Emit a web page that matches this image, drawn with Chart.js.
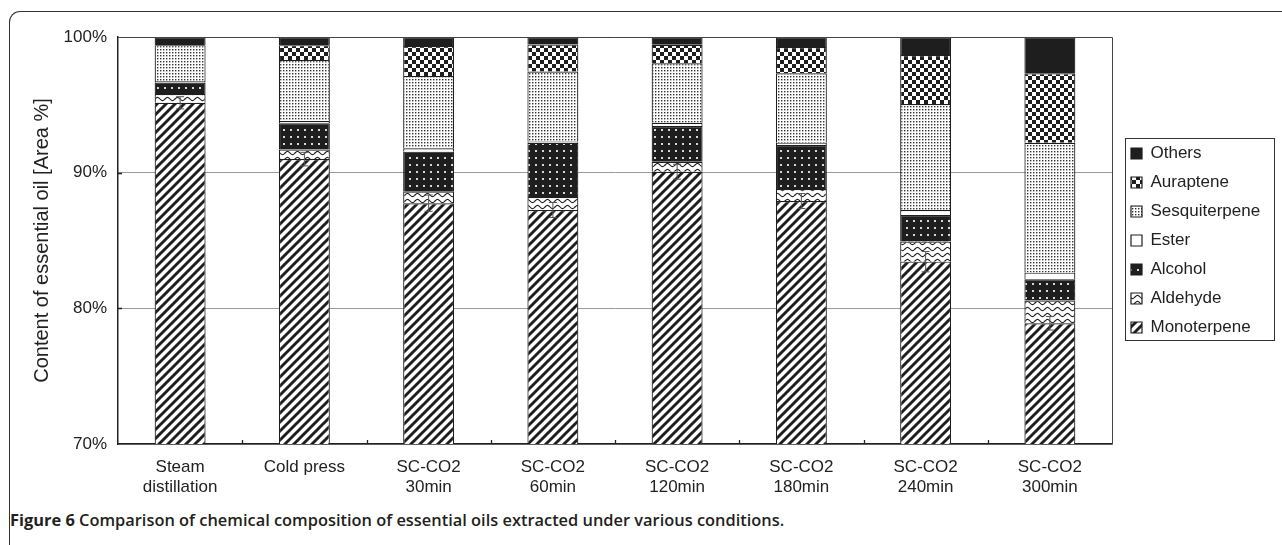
<!DOCTYPE html>
<html>
<head>
<meta charset="utf-8">
<script src="https://cdn.jsdelivr.net/npm/chart.js@4.4.1/dist/chart.umd.min.js"></script>
<style>
  html, body { margin: 0; padding: 0; background: #fff; }
  body { width: 1282px; height: 545px; position: relative; overflow: hidden; }
  #frame { position: absolute; left: 9px; top: 11px; width: 1300px; height: 560px;
           border-top: 1px solid #333; border-left: 1px solid #333; border-top-left-radius: 11px; }
  #chart { position: absolute; left: 0; top: 0; }
  #caption { position: absolute; left: 10px; top: 509px; font-family: 'Open Sans', sans-serif;
             font-size: 16.4px; font-weight: 600; color: #231f20; white-space: nowrap; line-height: 22px; }
  #caption b { font-weight: 700; }
</style>
</head>
<body>
<div id="frame"></div>
<canvas id="chart" width="1282" height="500"></canvas>
<div id="caption"><b>Figure 6</b> Comparison of chemical composition of essential oils extracted under various conditions.</div>
<script>
// categories (x axis, multi-line labels)
const categories = [
    ['Steam', 'distillation'],
    'Cold press',
    ['SC-CO2', '30min'],
    ['SC-CO2', '60min'],
    ['SC-CO2', '120min'],
    ['SC-CO2', '180min'],
    ['SC-CO2', '240min'],
    ['SC-CO2', '300min']
];

// Area % of each component, bottom of the stack first
const monoterpene   = [95.15, 91.0, 87.75, 87.25, 90.07, 87.91, 83.44, 78.9];
const aldehyde      = [0.65, 0.7, 0.85, 0.95, 0.74, 0.89, 1.48, 1.67];
const alcohol       = [0.85, 1.95, 2.95, 4.0, 2.63, 3.24, 1.96, 1.57];
const ester         = [0.1, 0.15, 0.25, 0.1, 0.24, 0.17, 0.37, 0.49];
const sesquiterpene = [2.65, 4.5, 5.33, 5.15, 4.38, 5.12, 7.81, 9.58];
const auraptene     = [0, 1.1, 2.2, 2.0, 1.37, 1.93, 3.61, 5.12];
const others        = [0.6, 0.6, 0.67, 0.55, 0.57, 0.74, 1.33, 2.67];

// error bars on the monoterpene part
const monoterpeneError = [0.45, 0.5, 0.6, 0.55, 0.55, 0.55, 0.75, 0.5];

const yTicks = [70, 80, 90, 100];

const FONT = "'Liberation Sans', Arial, Helvetica, sans-serif";
const INK = '#1e1e1e';

Chart.defaults.font.family = FONT;
Chart.defaults.color = '#222';

const canvas = document.getElementById('chart');
const mainCtx = canvas.getContext('2d');

// small helper for the black & white fill patterns
function makePattern(w, h, draw) {
    const tile = document.createElement('canvas');
    tile.width = w;
    tile.height = h;
    const g = tile.getContext('2d');
    draw(g, w, h);
    return mainCtx.createPattern(tile, 'repeat');
}

const stripes = makePattern(9, 9, (g, w, h) => {
    g.fillStyle = '#fff';
    g.fillRect(0, 0, w, h);
    g.strokeStyle = INK;
    g.lineWidth = 2.9;
    g.beginPath();
    for (let k = -1; k <= 1; k++) {
        g.moveTo(k * w - 1, h + 1);
        g.lineTo(k * w + w + 1, -1);
    }
    g.stroke();
});

const waves = makePattern(10, 6, (g, w, h) => {
    g.fillStyle = '#fff';
    g.fillRect(0, 0, w, h);
    g.strokeStyle = '#222';
    g.lineWidth = 1.1;
    g.beginPath();
    for (let x = 0; x <= w; x += 0.5) {
        const y = 3 + 1.6 * Math.sin((x / w) * Math.PI * 2);
        if (x === 0) g.moveTo(x, y); else g.lineTo(x, y);
    }
    g.stroke();
});

const darkDots = makePattern(7, 7, (g, w, h) => {
    g.fillStyle = INK;
    g.fillRect(0, 0, w, h);
    g.fillStyle = '#d8d8d8';
    g.fillRect(3, 3, 2, 2);
});

const fineDots = makePattern(3, 3, (g, w, h) => {
    g.fillStyle = '#fff';
    g.fillRect(0, 0, w, h);
    g.fillStyle = '#333';
    g.fillRect(1, 1, 1.4, 1.4);
});

const checker = makePattern(8, 8, (g, w, h) => {
    g.fillStyle = '#fff';
    g.fillRect(0, 0, w, h);
    g.fillStyle = INK;
    g.fillRect(0, 0, 4, 4);
    g.fillRect(4, 4, 4, 4);
});

function series(label, data, fill) {
    return {
        label: label,
        data: data,
        backgroundColor: fill,
        borderColor: INK,
        borderWidth: 1.2,
        stack: 'oil'
    };
}

const extras = {
    id: 'extras',
    afterDatasetsDraw(chart) {
        const { ctx, scales: { y } } = chart;
        const meta = chart.getDatasetMeta(0);
        ctx.save();
        ctx.strokeStyle = '#555';
        ctx.lineWidth = 1;
        meta.data.forEach((bar, i) => {
            const yt = y.getPixelForValue(monoterpene[i] + monoterpeneError[i]);
            const yb = y.getPixelForValue(monoterpene[i] - monoterpeneError[i]);
            ctx.beginPath();
            ctx.moveTo(bar.x, yt); ctx.lineTo(bar.x, yb);
            ctx.moveTo(bar.x - 4, yt); ctx.lineTo(bar.x + 4, yt);
            ctx.moveTo(bar.x - 4, yb); ctx.lineTo(bar.x + 4, yb);
            ctx.stroke();
        });
        ctx.restore();
    },
    afterDraw(chart) {
        const { ctx, chartArea: a, scales: { x, y } } = chart;
        ctx.save();
        // top and right edge of the plot box
        ctx.strokeStyle = '#444';
        ctx.lineWidth = 1;
        ctx.beginPath();
        ctx.moveTo(a.left, a.top + 0.5);
        ctx.lineTo(a.right + 0.5, a.top + 0.5);
        ctx.lineTo(a.right + 0.5, a.bottom);
        ctx.stroke();

        // short inside tick marks
        ctx.strokeStyle = '#222';
        ctx.lineWidth = 1.3;
        ctx.beginPath();
        yTicks.slice(1, -1).forEach(v => {
            const py = Math.round(y.getPixelForValue(v)) + 0.5;
            ctx.moveTo(a.left, py);
            ctx.lineTo(a.left + 4, py);
        });
        for (let i = 1; i < categories.length; i++) {
            const px = Math.round((x.getPixelForValue(i - 1) + x.getPixelForValue(i)) / 2) + 0.5;
            ctx.moveTo(px, a.bottom);
            ctx.lineTo(px, a.bottom - 4);
        }
        ctx.stroke();

        // box around the legend
        const lg = chart.legend;
        const boxes = lg.legendHitBoxes;
        if (boxes && boxes.length) {
            const top = Math.min(...boxes.map(b => b.top)) - 7;
            const bottom = Math.max(...boxes.map(b => b.top + b.height)) + 4;
            const left = Math.min(...boxes.map(b => b.left)) - 6;
            ctx.strokeStyle = '#333';
            ctx.lineWidth = 1;
            ctx.strokeRect(Math.round(left) + 0.5, Math.round(top) + 0.5,
                1274 - Math.round(left), Math.round(bottom - top));
        }
        ctx.restore();
    }
};

new Chart(mainCtx, {
    type: 'bar',
    data: {
        labels: categories,
        datasets: [
            series('Monoterpene', monoterpene, stripes),
            series('Aldehyde', aldehyde, waves),
            series('Alcohol', alcohol, darkDots),
            series('Ester', ester, '#ffffff'),
            series('Sesquiterpene', sesquiterpene, fineDots),
            series('Auraptene', auraptene, checker),
            series('Others', others, INK)
        ]
    },
    options: {
        responsive: false,
        animation: false,
        events: [],
        categoryPercentage: 1,
        barPercentage: 0.41,
        layout: { padding: { top: 37, left: 20, right: 12, bottom: 0 } },
        plugins: {
            tooltip: { enabled: false },
            legend: {
                position: 'right',
                fullSize: false,
                reverse: true,
                maxWidth: 151,
                labels: {
                    boxWidth: 11,
                    boxHeight: 11,
                    padding: 12,
                    color: '#222',
                    font: { size: 17, family: FONT }
                }
            }
        },
        scales: {
            x: {
                stacked: true,
                grid: { display: false, drawTicks: false },
                border: { display: true, color: '#222', width: 1.5 },
                ticks: {
                    color: '#222',
                    font: { size: 17 },
                    padding: 13,
                    maxRotation: 0,
                    autoSkip: false
                },
                afterFit: s => { s.height = 56; }
            },
            y: {
                stacked: true,
                min: 70,
                max: 100,
                afterBuildTicks: s => { s.ticks = yTicks.map(v => ({ value: v })); },
                ticks: {
                    color: '#222',
                    font: { size: 17 },
                    padding: 11,
                    callback: v => v + '%'
                },
                grid: { color: '#9a9a9a', lineWidth: 1, drawTicks: false },
                border: { color: '#222', width: 1.5 },
                title: {
                    display: true,
                    text: 'Content of essential oil [Area %]',
                    color: '#222',
                    font: { size: 20 },
                    padding: { top: 10, bottom: 0 }
                },
                afterFit: s => { s.width = 98; }
            },
            gap: {
                position: 'right',
                display: true,
                grid: { display: false, drawTicks: false },
                border: { display: false },
                ticks: { display: false },
                afterFit: s => { s.width = 7; }
            }
        }
    },
    plugins: [extras]
});
</script>
</body>
</html>
